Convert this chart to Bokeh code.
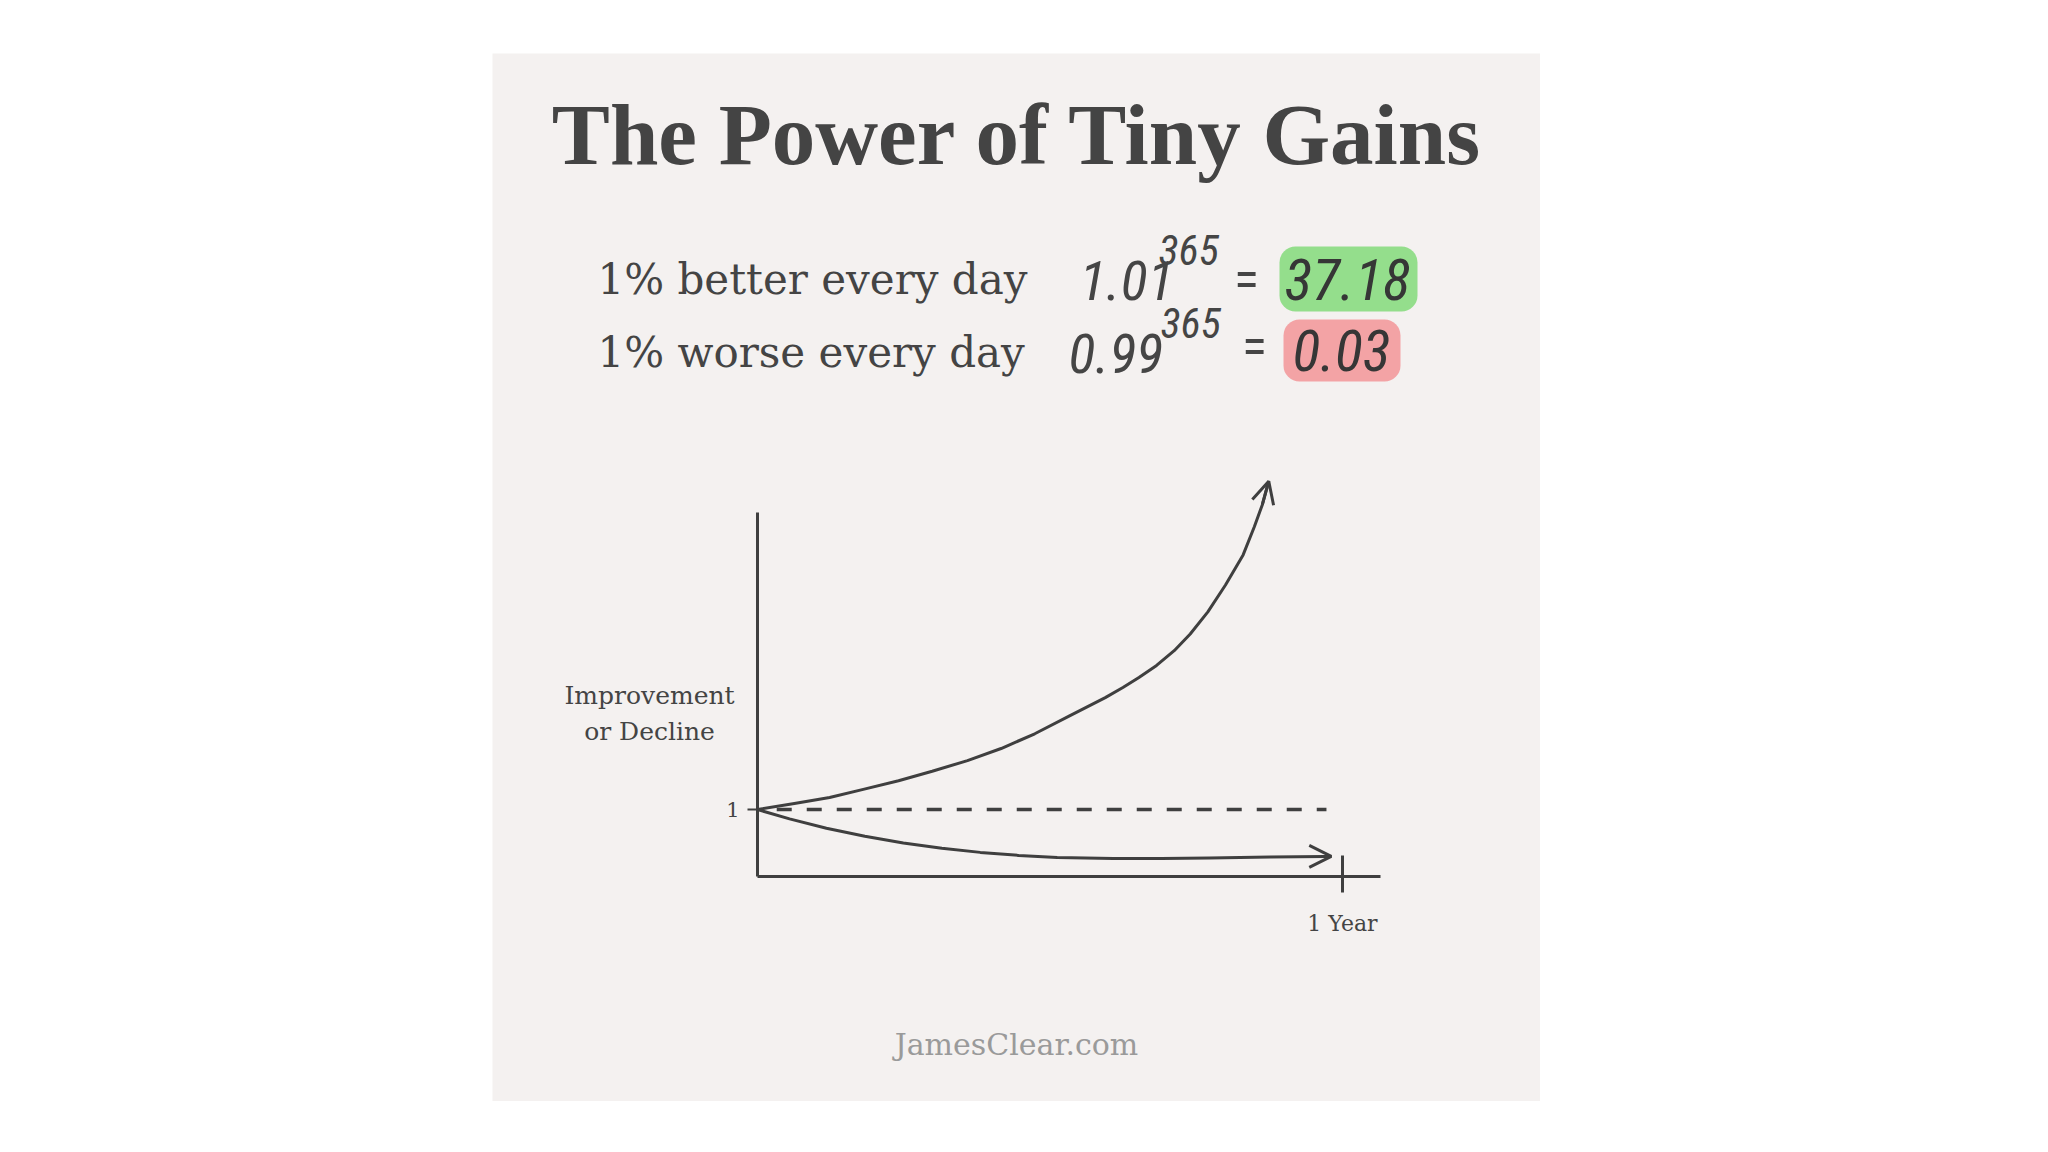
from bokeh.plotting import figure
from bokeh.models import LinearAxis, FixedTicker, Range1d, Arrow, OpenHead, Spacer
from bokeh.layouts import row, column
from bokeh.embed import file_html
from bokeh.resources import INLINE
from bokeh.core.properties import value

# ---------------- data ----------------
title_text = "The Power of Tiny Gains"
row_labels = ["1% better every day", "1% worse every day"]
bases = ["1.01", "0.99"]
exponents = ["365", "365"]
results = ["37.18", "0.03"]
y_label_lines = ["Improvement", "or Decline"]
x_tick_value = 365
x_tick_label = "1 Year"
y_tick_value = 1
y_tick_label = "1"
footer_text = "JamesClear.com"

# curves as drawn (x: days, y: relative level, 1 = start)
better_days = [0, 23, 45, 66, 88, 109, 131, 152, 173, 195, 217, 228, 238, 249, 260, 270, 281, 292, 303, 310, 315, 319]
better_vals = [1.0, 1.09, 1.18, 1.30, 1.43, 1.57, 1.73, 1.91, 2.13, 2.40, 2.67, 2.82, 2.97, 3.15, 3.37, 3.62, 3.95, 4.35, 4.80, 5.22, 5.55, 5.90]
worse_days = [0, 20, 43, 67, 91, 115, 139, 163, 187, 222, 252, 282, 320, 354, 358]
worse_vals = [1.0, 0.86, 0.72, 0.60, 0.50, 0.42, 0.36, 0.315, 0.285, 0.27, 0.268, 0.275, 0.29, 0.30, 0.30]
baseline_days = [12, 355]
baseline_vals = [1, 1]
y_axis_top = 5.43
x_axis_end = 388.7

# ---------------- geometry helpers (page px -> data) ----------------
CANVAS_X0, CANVAS_Y0, W, H = 492, 53, 1048, 1048
X0_PX, PX_PER_DAY = 757.0, 1.6027
Y0_PX, PX_PER_UNIT = 876.0, 67.0


def dx(px):
    return (px - X0_PX) / PX_PER_DAY


def vy(py):
    return (Y0_PX - py) / PX_PER_UNIT


BG = "#f4f1f0"
INK = "#3f3f3f"
TEXT = "#444444"

p = figure(width=W, height=H, output_backend="svg", toolbar_location=None,
           x_axis_type=None, y_axis_type=None, min_border=0,
           x_range=Range1d(dx(CANVAS_X0), dx(CANVAS_X0 + W)),
           y_range=Range1d(vy(CANVAS_Y0 + H), vy(CANVAS_Y0)))
p.background_fill_color = BG
p.border_fill_color = BG
p.outline_line_color = None
p.grid.visible = False

# axes drawn through the library, crossing at the origin
xaxis = LinearAxis(fixed_location=0, bounds=(0, x_axis_end),
                   ticker=FixedTicker(ticks=[x_tick_value]),
                   major_label_overrides={x_tick_value: x_tick_label})
xaxis.axis_line_color = INK
xaxis.axis_line_width = 3
xaxis.major_tick_line_color = INK
xaxis.major_tick_line_width = 3
xaxis.major_tick_in = 21
xaxis.major_tick_out = 16
xaxis.minor_tick_line_color = None
xaxis.major_label_standoff = 18
xaxis.major_label_text_font = "DejaVu Serif"
xaxis.major_label_text_font_size = "22px"
xaxis.major_label_text_color = TEXT
p.add_layout(xaxis, "below")

yaxis = LinearAxis(fixed_location=0, bounds=(0, y_axis_top),
                   ticker=FixedTicker(ticks=[y_tick_value]),
                   major_label_overrides={y_tick_value: y_tick_label})
yaxis.axis_line_color = INK
yaxis.axis_line_width = 3
yaxis.major_tick_line_color = INK
yaxis.major_tick_line_width = 2
yaxis.major_tick_in = 0
yaxis.major_tick_out = 10
yaxis.minor_tick_line_color = None
yaxis.major_label_standoff = 8
yaxis.major_label_text_font = "DejaVu Serif"
yaxis.major_label_text_font_size = "21px"
yaxis.major_label_text_color = TEXT
p.add_layout(yaxis, "left")

# curves
p.line(baseline_days, baseline_vals, line_color=INK, line_width=3.5, line_dash="15 15")
p.line(better_days, better_vals, line_color=INK, line_width=3, line_join="round")
p.line(worse_days, worse_vals, line_color=INK, line_width=3, line_join="round")
p.add_layout(Arrow(end=OpenHead(size=22, line_width=3, line_color=INK),
                   x_start=better_days[-2], y_start=better_vals[-2],
                   x_end=better_days[-1], y_end=better_vals[-1],
                   line_width=3, line_color=INK))
p.add_layout(Arrow(end=OpenHead(size=22, line_width=3, line_color=INK),
                   x_start=worse_days[-2], y_start=worse_vals[-2],
                   x_end=worse_days[-1], y_end=worse_vals[-1],
                   line_width=3, line_color=INK))

# title
p.text(x=[dx(1017)], y=[vy(134)], text=[title_text], text_font=value("Liberation Serif"),
       text_font_style="bold", text_font_size="87px", text_align="center",
       text_baseline="alphabetic", text_color=TEXT)

# equation rows
p.text(x=[dx(597)] * 2, y=[vy(279), vy(352)], text=row_labels,
       text_font=value("DejaVu Serif"), text_font_size="42px", text_align="left",
       text_baseline="alphabetic", text_color=TEXT)

# highlight boxes behind results
box_l = [1279, 1283]
box_r = [1417, 1400]
box_t = [246, 319]
box_b = [311, 381]
p.quad(left=[dx(v) for v in box_l], right=[dx(v) for v in box_r],
       top=[vy(v) for v in box_t], bottom=[vy(v) for v in box_b],
       fill_color=["#94de8c", "#f3a3a5"], line_color=None, border_radius=16)

HAND = value("Liberation Sans Narrow, Roboto Condensed, Liberation Sans")
HAND_INK = "#454545"
p.text(x=[dx(1079), dx(1068)], y=[vy(280), vy(353)], text=bases, text_font=HAND,
       text_font_style="italic", text_font_size="56px", text_align="left",
       text_baseline="alphabetic", text_color=HAND_INK)
p.text(x=[dx(1158), dx(1160)], y=[vy(249), vy(322)], text=exponents, text_font=HAND,
       text_font_style="italic", text_font_size="42px", text_align="left",
       text_baseline="alphabetic", text_color=HAND_INK)
p.text(x=[dx(1246), dx(1254)], y=[vy(279), vy(346)], text=["=", "="], text_font=HAND,
       text_font_size="52px", text_align="center", text_baseline="alphabetic",
       text_color=HAND_INK)
p.text(x=[dx(1347), dx(1341)], y=[vy(279), vy(350)], text=results, text_font=HAND,
       text_font_style="italic", text_font_size="58px", text_align="center",
       text_baseline="alphabetic", text_color="#363636")

# y axis description
p.text(x=[dx(649)] * 2, y=[vy(695), vy(731)], text=y_label_lines,
       text_font=value("DejaVu Serif"), text_font_size="25px", text_align="center",
       text_baseline="alphabetic", text_color=TEXT)

# footer
p.text(x=[dx(1016)], y=[vy(1044)], text=[footer_text], text_font=value("DejaVu Serif"),
       text_font_size="30px", text_align="center", text_baseline="alphabetic",
       text_color="#9a9a9a")

layout = column(Spacer(height=CANVAS_Y0),
                row(Spacer(width=CANVAS_X0), p))

open("out.html", "w").write(file_html(layout, INLINE))
